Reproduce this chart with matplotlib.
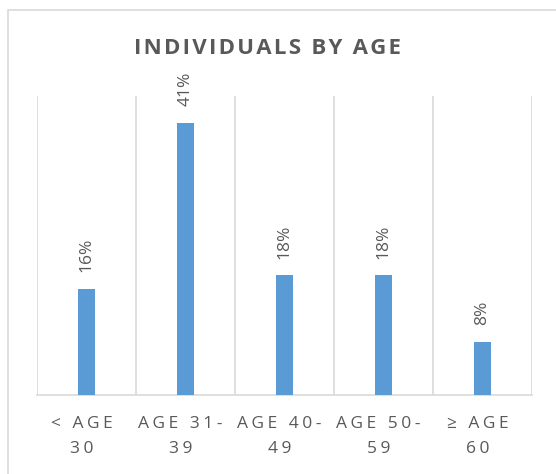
import matplotlib
matplotlib.use("Agg")
import matplotlib.pyplot as plt
from matplotlib.patches import Rectangle
from matplotlib.transforms import ScaledTranslation

categories = ["< AGE 30", "AGE 31-39", "AGE 40-49", "AGE 50-59", "≥ AGE 60"]
tick_labels = ["< AGE\n30", "AGE 31-\n39", "AGE 40-\n49", "AGE 50-\n59", "≥ AGE\n60"]
shares = [0.16, 0.41, 0.18, 0.18, 0.08]
value_labels = ["16%", "41%", "18%", "18%", "8%"]

FONT = ["Open Sans", "DejaVu Sans"]
GREY = "#595959"
LINE = "#D9D9D9"
BLUE = "#5B9BD5"


def spaced(s, n=1):
    # fake letter spacing with hair spaces
    gap = "\u200a" * n
    return "\n".join(gap.join(line) for line in s.split("\n"))


fig = plt.figure(figsize=(5.56, 4.74), dpi=100)
fig.patches.append(Rectangle((8 / 556, -0.1), 1.2, 1.1 - 10 / 474 + 0.0,
                             transform=fig.transFigure, fill=False,
                             edgecolor=LINE, lw=1.2))

ax = fig.add_axes([37 / 556, 79 / 474, 495 / 556, 299 / 474])
x = list(range(len(categories)))
bars = ax.bar(x, shares, width=0.18, color=BLUE, zorder=3)

for b, lab in zip(bars, value_labels):
    ax.annotate(lab, (b.get_x() + b.get_width() / 2, b.get_height()),
                xytext=(0, 12), textcoords="offset points",
                rotation=90, ha="center", va="bottom",
                fontsize=12.5, color=GREY, family=FONT)

ax.set_xlim(-0.5, len(categories) - 0.5)
ax.set_ylim(0, 0.45)
ax.set_yticks([])
ax.set_xticks(x)
ax.set_xticklabels([spaced(t, 2) for t in tick_labels], fontsize=12.5,
                   color=GREY, family=FONT, linespacing=1.75)
ax.tick_params(axis="x", length=0, pad=15)
shift = ScaledTranslation(-5 / 100, 0, fig.dpi_scale_trans)
for t in ax.get_xticklabels():
    t.set_transform(t.get_transform() + shift)
ax.set_xticks([i - 0.5 for i in range(len(categories) + 1)], minor=True)
ax.tick_params(axis="x", which="minor", length=0)
ax.grid(axis="x", which="minor", color=LINE, lw=1.2, zorder=0)
for side in ["top", "left", "right"]:
    ax.spines[side].set_visible(False)
ax.spines["bottom"].set_color(LINE)
ax.spines["bottom"].set_linewidth(1.2)

fig.text(267 / 556, 1 - 48 / 474, spaced("INDIVIDUALS BY AGE", 1),
         ha="center", va="center", fontsize=16, fontweight="bold",
         color=GREY, family=FONT)

fig.savefig("out.png", dpi=100)
